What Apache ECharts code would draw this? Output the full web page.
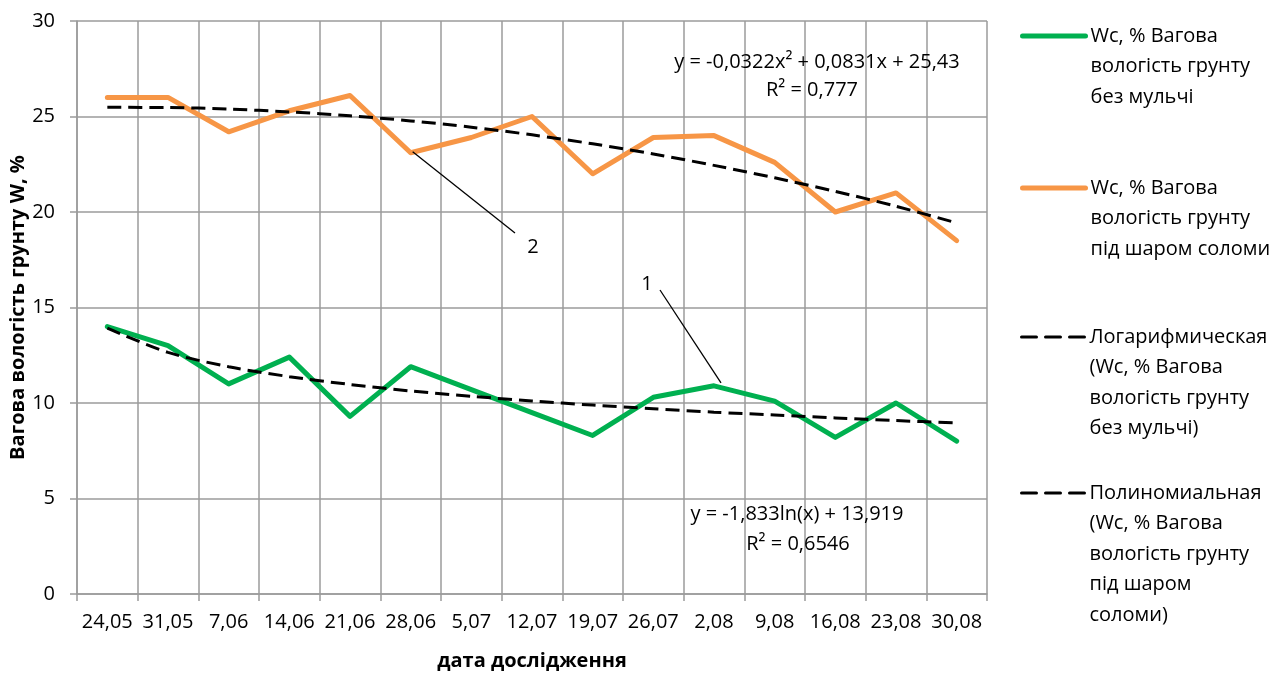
<!DOCTYPE html>
<html>
<head>
<meta charset="utf-8">
<script src="https://cdn.jsdelivr.net/npm/echarts@6/dist/echarts.min.js"></script>
<style>
  html, body { margin: 0; padding: 0; background: #fff; }
  #chart { width: 1286px; height: 678px; }
</style>
</head>
<body>
<div id="chart"></div>
<script>
// dates of measurement
const dates = ['24,05', '31,05', '7,06', '14,06', '21,06', '28,06', '5,07', '12,07',
    '19,07', '26,07', '2,08', '9,08', '16,08', '23,08', '30,08'];
// Wc without mulch (green) and under straw (orange)
const noMulch = [14.0, 13.0, 11.0, 12.4, 9.3, 11.9, 10.7, 9.5, 8.3, 10.3, 10.9, 10.1, 8.2, 10.0, 8.0];
const straw = [26.0, 26.0, 24.2, 25.3, 26.1, 23.1, 23.9, 25.0, 22.0, 23.9, 24.0, 22.6, 20.0, 21.0, 18.5];
// trend lines
const logTrend = [13.92, 12.65, 11.90, 11.38, 10.97, 10.63, 10.35, 10.11, 9.89, 9.70, 9.52, 9.37, 9.22, 9.08, 8.96];
const polyTrend = [25.48, 25.47, 25.39, 25.24, 25.04, 24.77, 24.44, 24.04, 23.57, 23.04, 22.44, 21.79, 21.08, 20.30, 19.43];
const yTicks = { min: 0, max: 30, interval: 5 };

const names = [
    'Wc, % Вагова вологість грунту без мульчі',
    'Wc, % Вагова вологість грунту під шаром соломи',
    'Логарифмическая (Wc, % Вагова вологість грунту без мульчі)',
    'Полиномиальная (Wc, % Вагова вологість грунту під шаром соломи)'
];
const legendLines = [
    ['Wc, % Вагова', 'вологість грунту', 'без мульчі'],
    ['Wc, % Вагова', 'вологість грунту', 'під шаром соломи'],
    ['Логарифмическая', '(Wc, % Вагова', 'вологість грунту', 'без мульчі)'],
    ['Полиномиальная', '(Wc, % Вагова', 'вологість грунту', 'під шаром', 'соломи)']
];
const legendFirstLineY = [36, 188, 337, 493];
const legendLineWidth = [5, 5, 3, 3];

const FONT = '"Open Sans", "Noto Sans", sans-serif';
const GRID = '#9b9b9b';
const DASH = [14, 7];
const LH = 30.5;

var chartDom = document.getElementById('chart');
var chart = echarts.init(chartDom);

// one legend per item; blank lines on top keep the sample on the first text line
const legends = names.map((nm, i) => {
    const n = legendLines[i].length;
    return {
        left: 1020,
        top: legendFirstLineY[i] - (n - 0.5) * LH,
        padding: 0,
        orient: 'vertical',
        data: [nm],
        itemWidth: 63,
        itemHeight: 14,
        selectedMode: false,
        itemStyle: { opacity: 0 },
        lineStyle: { width: legendLineWidth[i], type: i < 2 ? 'solid' : [15, 9], cap: 'round' },
        formatter: () => ' \n'.repeat(n - 1) + legendLines[i].join('\n'),
        textStyle: {
            fontFamily: FONT,
            fontSize: 20,
            color: '#000',
            lineHeight: LH
        }
    };
});

var option = {
    animation: false,
    backgroundColor: '#fff',
    grid: { left: 77, right: 299, top: 21, bottom: 84, containLabel: false, outerBoundsMode: 'none' },
    legend: legends,
    xAxis: {
        type: 'category',
        data: dates,
        boundaryGap: true,
        name: 'дата дослідження',
        nameLocation: 'middle',
        nameGap: 57,
        nameMoveOverlap: false,
        nameTextStyle: { fontFamily: FONT, fontSize: 20, fontWeight: 'bold', color: '#000' },
        axisLine: { lineStyle: { color: GRID, width: 1.5 } },
        axisTick: { show: true, length: 7, alignWithLabel: false, lineStyle: { color: GRID, width: 1.5 } },
        splitLine: { show: true, lineStyle: { color: GRID, width: 1.5 } },
        axisLabel: { interval: 0, fontFamily: FONT, fontSize: 20, color: '#000', margin: 18 }
    },
    yAxis: {
        type: 'value',
        min: yTicks.min,
        max: yTicks.max,
        interval: yTicks.interval,
        name: 'Вагова вологість грунту W, %',
        nameLocation: 'middle',
        nameGap: 49,
        nameMoveOverlap: false,
        nameTextStyle: { fontFamily: FONT, fontSize: 20, fontWeight: 'bold', color: '#000' },
        axisLine: { show: true, lineStyle: { color: GRID, width: 1.5 } },
        axisTick: { show: true, length: 7, lineStyle: { color: GRID, width: 1.5 } },
        splitLine: { show: true, lineStyle: { color: GRID, width: 1.5 } },
        axisLabel: { fontFamily: FONT, fontSize: 20, color: '#000', margin: 22 }
    },
    series: [
        {
            name: names[0],
            type: 'line',
            data: noMulch,
            symbol: 'none',
            color: '#00B050',
            lineStyle: { width: 5, color: '#00B050', cap: 'round', join: 'round' },
            z: 2
        },
        {
            name: names[1],
            type: 'line',
            data: straw,
            symbol: 'none',
            color: '#F79646',
            lineStyle: { width: 5, color: '#F79646', cap: 'round', join: 'round' },
            z: 2
        },
        {
            name: names[2],
            type: 'line',
            data: logTrend,
            symbol: 'none',
            smooth: 0.3,
            color: '#000',
            lineStyle: { width: 3, color: '#000', type: DASH },
            z: 3
        },
        {
            name: names[3],
            type: 'line',
            data: polyTrend,
            symbol: 'none',
            smooth: 0.3,
            color: '#000',
            lineStyle: { width: 3, color: '#000', type: DASH },
            z: 3
        }
    ]
};
chart.setOption(option);

// annotations: trend equations and numbered leader lines
const txt = (x, y, s) => ({
    type: 'text', x: x, y: y, z: 10,
    style: { text: s, fontFamily: FONT, fontSize: 20, fill: '#000', align: 'center', verticalAlign: 'middle' }
});
const leader = (x1, y1, x2, y2) => ({
    type: 'line', z: 10,
    shape: { x1: x1, y1: y1, x2: x2, y2: y2 },
    style: { stroke: '#000', lineWidth: 1.3 }
});
const p2 = chart.convertToPixel({ gridIndex: 0 }, [5, straw[5]]);
const p1 = chart.convertToPixel({ gridIndex: 0 }, [10, noMulch[10]]);
chart.setOption({
    graphic: [
        txt(817, 62, 'y = -0,0322x² + 0,0831x + 25,43'),
        txt(812, 90, 'R² = 0,777'),
        txt(797, 514, 'y = -1,833ln(x) + 13,919'),
        txt(798, 544, 'R² = 0,6546'),
        leader(p2[0] + 2, p2[1] - 1, 515, 233),
        txt(533, 247, '2'),
        leader(660, 290, p1[0] + 7, p1[1] - 3),
        txt(647, 284, '1')
    ]
});
</script>
</body>
</html>
